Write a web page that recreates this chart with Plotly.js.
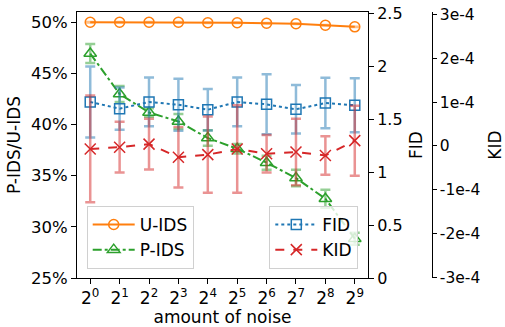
<!DOCTYPE html>
<html>
<head>
<meta charset="utf-8">
<script src="https://cdn.plot.ly/plotly-3.0.1.min.js"></script>
<style>html,body{margin:0;padding:0;background:#fff;}#chart{width:505px;height:327px;}</style>
</head>
<body>
<div id="chart"></div>
<script>
// ---- data ----
const noise = [1, 2, 4, 8, 16, 32, 64, 128, 256, 512];
const noiseLabels = ["2<sup>0</sup>","2<sup>1</sup>","2<sup>2</sup>","2<sup>3</sup>","2<sup>4</sup>","2<sup>5</sup>","2<sup>6</sup>","2<sup>7</sup>","2<sup>8</sup>","2<sup>9</sup>"];
const uIDS = [50.0, 50.0, 50.0, 50.0, 49.95, 49.95, 49.9, 49.85, 49.7, 49.55];
const uIDSErr = [0.02, 0.02, 0.02, 0.02, 0.02, 0.02, 0.02, 0.02, 0.02, 0.02];
const pIDS = [46.94, 42.98, 41.18, 40.3, 38.68, 37.64, 36.27, 34.77, 32.75, 28.84];
const pIDSErr = [0.92, 0.78, 0.42, 0.73, 0.75, 0.46, 0.68, 0.8, 0.88, 0.58];
const fid = [1.661, 1.598, 1.661, 1.635, 1.588, 1.661, 1.639, 1.592, 1.651, 1.63];
const fidErr = [0.335, 0.2, 0.23, 0.245, 0.195, 0.23, 0.283, 0.228, 0.239, 0.254];
const kid = [-0.07e-4, -0.03e-4, 0.04e-4, -0.26e-4, -0.2e-4, -0.07e-4, -0.18e-4, -0.14e-4, -0.22e-4, 0.12e-4];
const kidErr = [1.22e-4, 0.58e-4, 0.58e-4, 0.69e-4, 0.87e-4, 1.0e-4, 0.43e-4, 0.76e-4, 0.44e-4, 0.8e-4];
const pctTicks = [25, 30, 35, 40, 45, 50];
const pctTickText = ["25%", "30%", "35%", "40%", "45%", "50%"];
const fidTicks = [0, 0.5, 1, 1.5, 2, 2.5];
const fidTickText = ["0", "0.5", "1", "1.5", "2", "2.5"];
const kidTicks = [-3e-4, -2e-4, -1e-4, 0, 1e-4, 2e-4, 3e-4];
const kidTickText = ["-3e-4", "-2e-4", "-1e-4", "0", "1e-4", "2e-4", "3e-4"];

const C = {orange: '#ff7f0e', green: '#2ca02c', blue: '#1f77b4', red: '#d62728'};
const FONT = 'DejaVu Sans, sans-serif';
function errStyle(arr, col) {
  return {type: 'data', array: arr, visible: true, color: col, thickness: 2.5, width: 5};
}

const traces = [
  {x: noise, y: uIDS, name: 'U-IDS', type: 'scatter', mode: 'lines+markers', yaxis: 'y', legend: 'legend',
   line: {color: C.orange, width: 2}, marker: {symbol: 'circle-open', size: 10, color: C.orange, line: {width: 1.5}},
   error_y: errStyle(uIDSErr, 'rgba(255,127,14,0.5)')},
  {x: noise, y: pIDS, name: 'P-IDS', type: 'scatter', mode: 'lines+markers', yaxis: 'y', legend: 'legend',
   line: {color: C.green, width: 2, dash: 'dashdot'}, marker: {symbol: 'triangle-up-open', size: 11, color: C.green, line: {width: 1.5}},
   error_y: errStyle(pIDSErr, 'rgba(44,160,44,0.5)')},
  {x: noise, y: fid, name: 'FID', type: 'scatter', mode: 'lines+markers', yaxis: 'y2', legend: 'legend2',
   line: {color: C.blue, width: 2, dash: 'dot'}, marker: {symbol: 'square-open', size: 10, color: C.blue, line: {width: 1.5}},
   error_y: errStyle(fidErr, 'rgba(31,119,180,0.5)')},
  {x: noise, y: kid, name: 'KID', type: 'scatter', mode: 'lines+markers', yaxis: 'y3', legend: 'legend2',
   line: {color: C.red, width: 2, dash: 'dash'}, marker: {symbol: 'x-thin-open', size: 11, color: C.red, line: {width: 1.5, color: C.red}},
   error_y: errStyle(kidErr, 'rgba(214,39,40,0.5)')}
];

const W = 388; // paper width
const legendCommon = {bgcolor: 'rgba(255,255,255,0.8)', bordercolor: '#d0d0d0', borderwidth: 1,
  font: {family: FONT, size: 17, color: '#000'}, xanchor: 'left', yanchor: 'bottom', tracegroupgap: 0,
  itemwidth: 42};

const layout = {
  width: 505, height: 327,
  margin: {l: 77, r: 40, t: 12, b: 49},
  paper_bgcolor: '#fff', plot_bgcolor: '#fff',
  font: {family: FONT, size: 16, color: '#000'},
  showlegend: true,
  xaxis: {
    type: 'log', domain: [0, 291 / W],
    range: [-0.45 * Math.log10(2), 9.45 * Math.log10(2)],
    tickvals: noise, ticktext: noiseLabels,
    ticks: 'outside', ticklen: 5, tickcolor: '#000', showgrid: false, zeroline: false,
    showline: true, linecolor: '#000', linewidth: 1, mirror: true,
    tickfont: {family: FONT, size: 17},
    title: {text: 'amount of noise', font: {family: FONT, size: 17}, standoff: 4}
  },
  yaxis: {
    range: [25, 51], tickvals: pctTicks, ticktext: pctTickText,
    ticks: 'outside', ticklen: 5, tickcolor: '#000', showgrid: false, zeroline: false,
    showline: true, linecolor: '#000', linewidth: 1,
    tickfont: {family: FONT, size: 16.5},
    title: {text: 'P-IDS/U-IDS', font: {family: FONT, size: 17}, standoff: 6}
  },
  yaxis2: {
    overlaying: 'y', side: 'right', anchor: 'x', range: [0, 2.51],
    tickvals: fidTicks, ticktext: fidTickText,
    ticks: 'outside', ticklen: 5, tickcolor: '#000', showgrid: false, zeroline: false,
    showline: true, linecolor: '#000', linewidth: 1,
    tickfont: {family: FONT, size: 16},
    title: {text: 'FID', font: {family: FONT, size: 17}, standoff: 8}
  },
  yaxis3: {
    overlaying: 'y', side: 'right', anchor: 'free', position: (431.7 - 77) / W,
    range: [-3.02e-4, 3.06e-4],
    tickvals: kidTicks, ticktext: kidTickText,
    ticks: 'outside', ticklen: 4, tickcolor: '#000', showgrid: false, zeroline: false,
    showline: true, linecolor: '#000', linewidth: 1,
    tickfont: {family: FONT, size: 15.5},
    title: {text: 'KID', font: {family: FONT, size: 17}, standoff: 16}
  },
  legend: Object.assign({}, legendCommon, {x: (86.7 - 77) / W, y: (278 - 269) / 266}),
  legend2: Object.assign({}, legendCommon, {x: (269.3 - 77) / W, y: (278 - 269) / 266})
};

Plotly.newPlot('chart', traces, layout, {displayModeBar: false, staticPlot: true});
</script>
</body>
</html>
